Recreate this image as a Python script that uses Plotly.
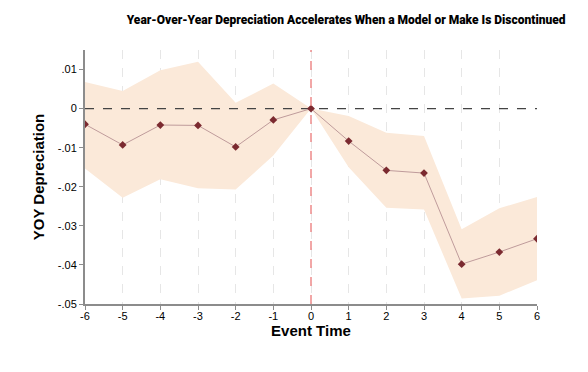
import plotly.graph_objects as go

event_time = [-6, -5, -4, -3, -2, -1, 0, 1, 2, 3, 4, 5, 6]
estimate = [-0.0040, -0.0093, -0.0042, -0.0043, -0.0098, -0.0029, 0.0, -0.0083, -0.0158, -0.0165, -0.0398, -0.0367, -0.0333]
ci_upper = [0.0068, 0.0045, 0.0098, 0.0120, 0.0015, 0.0064, 0.0, -0.0019, -0.0062, -0.0070, -0.0309, -0.0255, -0.0226]
ci_lower = [-0.0153, -0.0228, -0.0181, -0.0204, -0.0207, -0.0120, 0.0, -0.0150, -0.0254, -0.0258, -0.0486, -0.0479, -0.0439]
y_ticks = [0.01, 0.0, -0.01, -0.02, -0.03, -0.04, -0.05]
y_tick_labels = [".01", "0", "-.01", "-.02", "-.03", "-.04", "-.05"]

fig = go.Figure()
fig.add_trace(go.Scatter(x=event_time, y=ci_upper, mode="lines", line=dict(width=0, color="rgba(0,0,0,0)"),
                         showlegend=False, hoverinfo="skip"))
fig.add_trace(go.Scatter(x=event_time, y=ci_lower, mode="lines", line=dict(width=0, color="rgba(0,0,0,0)"),
                         fill="tonexty", fillcolor="#fbe9d9", showlegend=False, hoverinfo="skip"))
# zero line
fig.add_trace(go.Scatter(x=[event_time[0], event_time[-1]], y=[0, 0], mode="lines",
                         line=dict(color="#444444", width=1.3, dash="dash"), showlegend=False, hoverinfo="skip"))
fig.add_trace(go.Scatter(x=event_time, y=estimate, mode="lines+markers",
                         line=dict(color="#bf9b9b", width=1),
                         marker=dict(symbol="diamond", size=6, color="#7b2a30"),
                         showlegend=False))

fig.add_vline(x=0, line=dict(color="#ee8a8a", width=1.5, dash="dash"), layer="above")

fig.update_layout(
    width=580, height=364,
    margin=dict(l=77, r=51, t=42, b=68),
    paper_bgcolor="white", plot_bgcolor="white",
    title=dict(text="Year-Over-Year Depreciation Accelerates When a Model or Make Is Discontinued",
               x=0.583, xanchor="center", y=0.967, yanchor="middle",
               font=dict(family="Roboto", size=12, weight=900, color="black")),
    font=dict(family="Liberation Sans", color="black"),
    xaxis=dict(range=[-6, 6], tickmode="array", tickvals=event_time,
               ticktext=[str(v) for v in event_time],
               showgrid=True, gridcolor="#e6e6e6", griddash="dash", gridwidth=1,
               showline=True, linecolor="#8c8c8c", linewidth=2, ticks="outside",
               ticklen=4, tickcolor="#8c8c8c", tickfont=dict(size=11),
               ticklabelstandoff=-3, zeroline=False,
               title=dict(text="<b>Event Time</b>", font=dict(size=15), standoff=2)),
    yaxis=dict(range=[-0.05, 0.015], tickmode="array", tickvals=y_ticks, ticktext=y_tick_labels,
               showgrid=False, showline=True, linecolor="#8c8c8c", linewidth=2, ticks="outside",
               ticklen=4, tickcolor="#8c8c8c", tickfont=dict(size=11), zeroline=False,
               title=dict(text="<b>YOY Depreciation</b>", font=dict(size=15), standoff=10)),
)

fig.write_html("out.html")
